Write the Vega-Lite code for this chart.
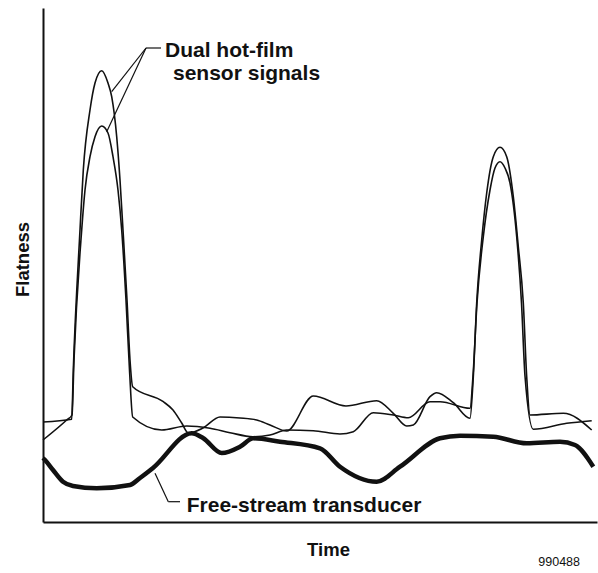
{
  "$schema": "https://vega.github.io/schema/vega-lite/v6.json",
  "width": 554,
  "height": 514,
  "autosize": {"type": "none"},
  "padding": {"left": 43, "top": 8, "right": 1, "bottom": 51},
  "background": "white",
  "config": {"view": {"stroke": null}, "font": "Liberation Sans"},
  "datasets": {
    "sensors": [
      {"s": "A", "t": 0, "f": 100}, {"s": "A", "t": 28.7, "f": 102.7}, {"s": "A", "t": 30.3, "f": 152},
      {"s": "A", "t": 37, "f": 292}, {"s": "A", "t": 40.3, "f": 352}, {"s": "A", "t": 47, "f": 412},
      {"s": "A", "t": 52, "f": 439}, {"s": "A", "t": 58.7, "f": 451.3}, {"s": "A", "t": 65, "f": 439},
      {"s": "A", "t": 68.7, "f": 425.3}, {"s": "A", "t": 73.7, "f": 385.3}, {"s": "A", "t": 77, "f": 342},
      {"s": "A", "t": 80, "f": 292}, {"s": "A", "t": 84, "f": 222}, {"s": "A", "t": 87, "f": 162},
      {"s": "A", "t": 89.7, "f": 135.3}, {"s": "A", "t": 120.3, "f": 120.3}, {"s": "A", "t": 130, "f": 112},
      {"s": "A", "t": 138.7, "f": 99}, {"s": "A", "t": 145.3, "f": 89}, {"s": "A", "t": 160, "f": 94},
      {"s": "A", "t": 177, "f": 105}, {"s": "A", "t": 197, "f": 104}, {"s": "A", "t": 213.7, "f": 102},
      {"s": "A", "t": 227, "f": 97}, {"s": "A", "t": 243.7, "f": 91}, {"s": "A", "t": 270.3, "f": 126},
      {"s": "A", "t": 303, "f": 116}, {"s": "A", "t": 333.7, "f": 121.3}, {"s": "A", "t": 350.3, "f": 108.7},
      {"s": "A", "t": 363.7, "f": 96}, {"s": "A", "t": 370.3, "f": 97}, {"s": "A", "t": 387, "f": 125.3},
      {"s": "A", "t": 393.7, "f": 129.3}, {"s": "A", "t": 410.3, "f": 119.3}, {"s": "A", "t": 427, "f": 103.7},
      {"s": "A", "t": 430.3, "f": 145.3}, {"s": "A", "t": 433.7, "f": 219}, {"s": "A", "t": 438.7, "f": 282},
      {"s": "A", "t": 443.7, "f": 329}, {"s": "A", "t": 450.3, "f": 365.3}, {"s": "A", "t": 457, "f": 374.7},
      {"s": "A", "t": 463.7, "f": 365.3}, {"s": "A", "t": 470.3, "f": 325.3}, {"s": "A", "t": 475.3, "f": 275.3},
      {"s": "A", "t": 480.3, "f": 219}, {"s": "A", "t": 483.7, "f": 145.3}, {"s": "A", "t": 487, "f": 107},
      {"s": "A", "t": 520.3, "f": 108.7}, {"s": "A", "t": 548.7, "f": 92},
      {"s": "B", "t": 0, "f": 82}, {"s": "B", "t": 23.7, "f": 102}, {"s": "B", "t": 29, "f": 107},
      {"s": "B", "t": 31, "f": 162}, {"s": "B", "t": 38.7, "f": 292}, {"s": "B", "t": 42, "f": 332},
      {"s": "B", "t": 47, "f": 365.3}, {"s": "B", "t": 52, "f": 385.3}, {"s": "B", "t": 58.7, "f": 396},
      {"s": "B", "t": 65, "f": 389}, {"s": "B", "t": 70, "f": 365.3}, {"s": "B", "t": 75, "f": 332},
      {"s": "B", "t": 78.7, "f": 292}, {"s": "B", "t": 83, "f": 222}, {"s": "B", "t": 86.5, "f": 152},
      {"s": "B", "t": 89.7, "f": 105}, {"s": "B", "t": 118.7, "f": 92}, {"s": "B", "t": 143.7, "f": 96},
      {"s": "B", "t": 167, "f": 93.7}, {"s": "B", "t": 187, "f": 89.3}, {"s": "B", "t": 210, "f": 85.3},
      {"s": "B", "t": 227, "f": 87}, {"s": "B", "t": 243.7, "f": 92}, {"s": "B", "t": 270.3, "f": 91.3},
      {"s": "B", "t": 297, "f": 88}, {"s": "B", "t": 310.3, "f": 90.3}, {"s": "B", "t": 330.3, "f": 109.3},
      {"s": "B", "t": 350.3, "f": 107}, {"s": "B", "t": 365.3, "f": 104.3}, {"s": "B", "t": 387, "f": 120.3},
      {"s": "B", "t": 397, "f": 120.3}, {"s": "B", "t": 427, "f": 113.7}, {"s": "B", "t": 430, "f": 146},
      {"s": "B", "t": 434, "f": 219}, {"s": "B", "t": 440.3, "f": 285.3}, {"s": "B", "t": 447, "f": 332},
      {"s": "B", "t": 452, "f": 354}, {"s": "B", "t": 457, "f": 360.3}, {"s": "B", "t": 462, "f": 354},
      {"s": "B", "t": 467, "f": 339}, {"s": "B", "t": 473.7, "f": 285.3}, {"s": "B", "t": 478.5, "f": 219},
      {"s": "B", "t": 482, "f": 146}, {"s": "B", "t": 490.3, "f": 92.7}, {"s": "B", "t": 523.7, "f": 98.7},
      {"s": "B", "t": 548.7, "f": 101.3}
    ],
    "freestream": [
      {"t": 0, "f": 64}, {"t": 2, "f": 62}, {"t": 10, "f": 52}, {"t": 20, "f": 40.3}, {"t": 30, "f": 36},
      {"t": 53.7, "f": 33.7}, {"t": 87, "f": 37}, {"t": 97, "f": 44}, {"t": 110, "f": 54},
      {"t": 148.7, "f": 88.7}, {"t": 160, "f": 84}, {"t": 178.7, "f": 69}, {"t": 197, "f": 75.3},
      {"t": 210.3, "f": 83.7}, {"t": 237, "f": 80.3}, {"t": 277, "f": 73.7}, {"t": 297, "f": 55.3},
      {"t": 333.7, "f": 40.3}, {"t": 357, "f": 55.3}, {"t": 397, "f": 83.7}, {"t": 417, "f": 86.3},
      {"t": 450.3, "f": 85.3}, {"t": 483.7, "f": 78.7}, {"t": 517, "f": 80.3}, {"t": 532, "f": 77},
      {"t": 550.3, "f": 55.3}
    ],
    "leaders": [
      {"t": 103, "f": 474, "t2": 118, "f2": 474},
      {"t": 103, "f": 474, "t2": 68.7, "f2": 430.3},
      {"t": 103, "f": 474, "t2": 63.7, "f2": 390.3},
      {"t": 112, "f": 48.7, "t2": 125.3, "f2": 20.3},
      {"t": 125.3, "f": 20.3, "t2": 137, "f2": 20.3}
    ],
    "labels": [
      {"t": 122, "f": 465, "label": "Dual hot-film"},
      {"t": 130, "f": 442, "label": "sensor signals"},
      {"t": 143.7, "f": 10.3, "label": "Free-stream transducer"}
    ],
    "note": [
      {"t": 537, "f": -44, "label": "990488"}
    ]
  },
  "layer": [
    {
      "data": {"name": "sensors"},
      "mark": {"type": "line", "color": "#111", "strokeWidth": 1.6, "interpolate": "monotone", "clip": false},
      "encoding": {
        "x": {"field": "t", "type": "quantitative",
          "scale": {"domain": [0, 554], "nice": false, "zero": false},
          "axis": {"title": "Time", "grid": false, "ticks": false, "labels": false,
            "domain": true, "domainColor": "#111", "domainWidth": 2,
            "titleFont": "Liberation Sans", "titleFontSize": 18.5, "titleFontWeight": "bold", "titleColor": "#111",
            "titleX": 285, "titleY": 33, "titleBaseline": "alphabetic", "titleAlign": "center"}},
        "y": {"field": "f", "type": "quantitative",
          "scale": {"domain": [0, 514], "nice": false, "zero": false},
          "axis": {"title": "Flatness", "grid": false, "ticks": false, "labels": false,
            "domain": true, "domainColor": "#111", "domainWidth": 2,
            "titleFont": "Liberation Sans", "titleFontSize": 18.5, "titleFontWeight": "bold", "titleColor": "#111",
            "titleX": -15, "titleY": 251, "titleAngle": -90, "titleBaseline": "alphabetic", "titleAlign": "center"}},
        "detail": {"field": "s"}
      }
    },
    {
      "data": {"name": "freestream"},
      "mark": {"type": "line", "color": "#111", "strokeWidth": 4.5, "strokeJoin": "round", "interpolate": "monotone", "clip": false},
      "encoding": {
        "x": {"field": "t", "type": "quantitative"},
        "y": {"field": "f", "type": "quantitative"}
      }
    },
    {
      "data": {"name": "leaders"},
      "mark": {"type": "rule", "color": "#111", "strokeWidth": 1.2},
      "encoding": {
        "x": {"field": "t", "type": "quantitative"},
        "y": {"field": "f", "type": "quantitative"},
        "x2": {"field": "t2"},
        "y2": {"field": "f2"}
      }
    },
    {
      "data": {"name": "labels"},
      "mark": {"type": "text", "align": "left", "baseline": "alphabetic", "font": "Liberation Sans", "fontSize": 21, "fontWeight": "bold", "color": "#111"},
      "encoding": {
        "x": {"field": "t", "type": "quantitative"},
        "y": {"field": "f", "type": "quantitative"},
        "text": {"field": "label"}
      }
    },
    {
      "data": {"name": "note"},
      "mark": {"type": "text", "align": "right", "baseline": "alphabetic", "font": "Liberation Sans", "fontSize": 12.5, "color": "#111"},
      "encoding": {
        "x": {"field": "t", "type": "quantitative"},
        "y": {"field": "f", "type": "quantitative"},
        "text": {"field": "label"}
      }
    }
  ]
}
